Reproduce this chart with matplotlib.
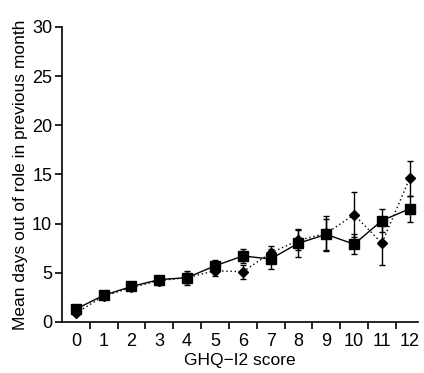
import numpy as np
import matplotlib
matplotlib.use("Agg")
import matplotlib.pyplot as plt
from matplotlib.ticker import FixedLocator

plt.rcParams['font.family'] = ['Liberation Sans', 'DejaVu Sans']

# GHQ-12 score categories
scores = list(range(13))

# solid line, squares
sq_mean = [1.3, 2.7, 3.6, 4.3, 4.5, 5.7, 6.7, 6.4, 8.0, 8.9, 7.9, 10.3, 11.5]
sq_err = [0.3, 0.3, 0.3, 0.4, 0.5, 0.6, 0.7, 1.0, 1.4, 1.6, 1.0, 1.2, 1.3]

# dotted line, diamonds
dm_mean = [0.9, 2.6, 3.5, 4.2, 4.5, 5.2, 5.1, 7.0, 8.3, 9.0, 10.9, 8.0, 14.6]
dm_err = [0.2, 0.3, 0.3, 0.4, 0.7, 0.5, 0.7, 0.7, 1.0, 1.8, 2.3, 2.2, 1.8]

fig = plt.figure(figsize=(4.24, 3.73), dpi=100)
ax = fig.add_axes([0.146, 0.137, 0.84, 0.791])

ax.errorbar(scores, sq_mean, yerr=sq_err, fmt='-s', color='black', lw=1.0,
            ms=7, capsize=2.5, elinewidth=1.0, capthick=1.0)
ax.errorbar(scores, dm_mean, yerr=dm_err, fmt='D', color='black',
            ms=5.5, capsize=2.5, elinewidth=1.0, capthick=1.0)
ax.plot(scores, dm_mean, color='black', lw=1.0, ls=(0, (1, 2)))

ax.set_xlim(-0.5, 12.3)
ax.set_ylim(0, 30)
ax.set_yticks([0, 5, 10, 15, 20, 25, 30])
ax.set_xticks(scores)
ax.xaxis.set_minor_locator(FixedLocator(np.arange(0.5, 12.5, 1)))
ax.tick_params(axis='x', which='major', length=0, pad=8, labelsize=13)
ax.tick_params(axis='x', which='minor', length=5, width=1.2, direction='out')
ax.tick_params(axis='y', length=5, width=1.2, labelsize=13, pad=2)

for s in ['top', 'right']:
    ax.spines[s].set_visible(False)
ax.spines['left'].set_linewidth(1.2)
ax.spines['bottom'].set_linewidth(1.2)

ax.set_xlabel('GHQ\u2212I2 score', fontsize=12.5, labelpad=2)
ax.set_ylabel('Mean days out of role in previous month', fontsize=12.5, labelpad=3)

fig.savefig('out.png', dpi=100)
